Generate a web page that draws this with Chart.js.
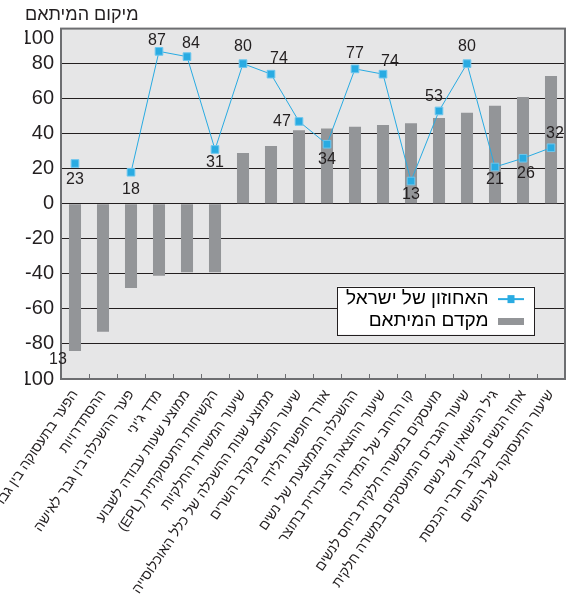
<!DOCTYPE html>
<html lang="he">

<head>
    <meta charset="UTF-8">
    <title>מיקום המיתאם</title>
    <script src="https://cdn.jsdelivr.net/npm/chart.js"></script>
    <style>
        html,
        body {
            margin: 0;
            padding: 0;
            background: #ffffff;
        }
    </style>
</head>

<body>
    <canvas id="grafico" width="572" height="596"></canvas>

    <script>
        // categorias (eixo x)
        const categorias = [
            'הפער בתעסוקה בין גבר לאישה',
            'ההסתדרויות',
            'פער ההשכלה בין גבר לאישה',
            "מדד ג'יני",
            'ממוצע שעות עבודה לשבוע',
            'הקשיחות התעסוקתית (EPL)',
            'שיעור המשרות החלקיות',
            'ממוצע שנות ההשכלה של כלל האוכלוסייה',
            'שיעור הנשים בקרב השרים',
            'אורך חופשת הלידה',
            'ההשכלה הממוצעת של נשים',
            'שיעור ההוצאה הציבורית בתוצר',
            'קו הרוחב של המדינה',
            'מועסקים במשרה חלקית ביחס לנשים',
            'שיעור הגברים המועסקים במשרה חלקית',
            'גיל הנישואין של נשים',
            'אחוז הנשים בקרב חברי הכנסת',
            'שיעור התעסוקה של הנשים'
        ];

        // barras cinza
        const mekadem = [-84, -73, -48, -41, -39, -39, 29, 33, 42, 43, 44, 45, 46, 49, 52, 56, 61, 73];

        // linha azul (sem valor na segunda categoria)
        const achuzon = [23, null, 18, 87, 84, 31, 80, 74, 47, 34, 77, 74, 13, 53, 80, 21, 26, 32];

        const eixoMin = -100;
        const eixoMax = 100;
        const eixoPasso = 20;

        // rótulo solto perto do canto inferior esquerdo
        const rotuloSolto = { texto: '13', valor: -89 };

        // deslocamento [dx, dy] de cada rótulo de valor em relação ao ponto
        const deslocRotulos = [
            [0, 16], null, [0, 17], [-2, -11], [4, -13], [0, 13], [0, -17], [8, -16], [-17, 0],
            [0, 15], [0, -15], [7, -13], [0, 14], [-5, -14], [0, -17], [0, 13], [3, 15], [4, -14]
        ];

        const fonte = "'Liberation Sans', Arial, 'DejaVu Sans', sans-serif";
        const corTexto = '#231f20';
        const azul = '#29abe2';
        const cinza = '#939598';
        const fundo = '#e6e6e7';
        const moldura = '#6d6e71';

        // ícones da legenda
        function iconeLinha() {
            const c = document.createElement('canvas');
            c.width = 26;
            c.height = 10;
            const g = c.getContext('2d');
            g.strokeStyle = azul;
            g.lineWidth = 2;
            g.beginPath();
            g.moveTo(0, 5);
            g.lineTo(26, 5);
            g.stroke();
            g.fillStyle = azul;
            g.fillRect(9.5, 1, 7, 8);
            return c;
        }

        function iconeBarra() {
            const c = document.createElement('canvas');
            c.width = 26;
            c.height = 7;
            const g = c.getContext('2d');
            g.fillStyle = cinza;
            g.fillRect(0, 0, 26, 7);
            return c;
        }

        const icones = [iconeLinha(), iconeBarra()];

        // fundo cinza, moldura e caixa branca da legenda
        const fundoEQuadro = {
            id: 'fundoEQuadro',
            beforeDraw(chart) {
                const { ctx, chartArea: a } = chart;
                ctx.save();
                ctx.fillStyle = fundo;
                ctx.fillRect(a.left, a.top, a.width, a.height);
                ctx.restore();
            },
            afterLayout(chart) {
                const a = chart.chartArea;
                const lg = chart.legend;
                lg.left = a.right - 38 - lg.width;
                lg.top = a.top + 258;
                lg.right = lg.left + lg.width;
                lg.bottom = lg.top + lg.height;
            },
            beforeDatasetsDraw(chart) {
                const { ctx, chartArea: a } = chart;
                ctx.save();
                ctx.strokeStyle = moldura;
                ctx.lineWidth = 2;
                ctx.strokeRect(a.left, a.top, a.width, a.height);

                const caixas = chart.legend.legendHitBoxes;
                const esq = Math.min(...caixas.map(h => h.left)) - 9;
                const dir = Math.max(...caixas.map(h => h.left + h.width)) + 10;
                const topo = caixas[0].top - 3;
                const ult = caixas[caixas.length - 1];
                const base = ult.top + ult.height + 4;
                ctx.fillStyle = '#ffffff';
                ctx.fillRect(esq, topo, dir - esq, base - topo);
                ctx.strokeStyle = corTexto;
                ctx.lineWidth = 1;
                ctx.strokeRect(Math.round(esq) + 0.5, Math.round(topo) + 0.5, Math.round(dir - esq), Math.round(base - topo));
                ctx.restore();

                // legenda por cima da caixa
                chart.legend.draw();
            }
        };

        // números junto aos pontos da linha
        const rotulosValores = {
            id: 'rotulosValores',
            afterDatasetsDraw(chart) {
                const ctx = chart.ctx;
                const meta = chart.getDatasetMeta(0);
                ctx.save();
                ctx.font = '16px ' + fonte;
                ctx.fillStyle = corTexto;
                ctx.textAlign = 'center';
                ctx.textBaseline = 'middle';
                meta.data.forEach((pt, i) => {
                    if (achuzon[i] == null) return;
                    const d = deslocRotulos[i];
                    ctx.fillText(String(achuzon[i]), pt.x + d[0], pt.y + d[1]);
                });
                ctx.fillText(rotuloSolto.texto, chart.chartArea.left - 3, chart.scales.y.getPixelForValue(rotuloSolto.valor));
                ctx.restore();
            }
        };

        const ctx = document.getElementById('grafico').getContext('2d');

        const grafico = new Chart(ctx, {
            type: 'bar',
            data: {
                labels: categorias,
                datasets: [{
                    type: 'line',
                    label: 'האחוזון של ישראל',
                    data: achuzon,
                    borderColor: azul,
                    backgroundColor: azul,
                    borderWidth: 1,
                    tension: 0,
                    fill: false,
                    spanGaps: false,
                    pointStyle: 'rect',
                    pointRadius: 5.4,
                    pointBackgroundColor: azul,
                    pointBorderColor: '#6cc6ee',
                    pointBorderWidth: 1
                }, {
                    type: 'bar',
                    label: 'מקדם המיתאם',
                    data: mekadem,
                    backgroundColor: cinza,
                    barPercentage: 0.43,
                    categoryPercentage: 1
                }]
            },
            options: {
                responsive: false,
                animation: false,
                devicePixelRatio: 1,
                layout: {
                    padding: { left: 25, right: 7, top: 0, bottom: 0 }
                },
                plugins: {
                    title: {
                        display: true,
                        text: 'מיקום המיתאם',
                        align: 'start',
                        color: corTexto,
                        font: { family: fonte, size: 18, weight: 'normal' },
                        padding: { top: 4, bottom: 3 }
                    },
                    legend: {
                        position: 'chartArea',
                        align: 'start',
                        rtl: true,
                        labels: {
                            usePointStyle: true,
                            pointStyleWidth: 26,
                            boxHeight: 18,
                            padding: 3,
                            color: corTexto,
                            font: { family: fonte, size: 19 },
                            generateLabels: (chart) => chart.data.datasets.map((ds, i) => ({
                                text: ds.label,
                                pointStyle: icones[i],
                                fillStyle: i === 0 ? azul : cinza,
                                strokeStyle: i === 0 ? azul : cinza,
                                lineWidth: 0,
                                hidden: false,
                                datasetIndex: i
                            }))
                        }
                    },
                    tooltip: { enabled: false }
                },
                scales: {
                    x: {
                        offset: true,
                        grid: {
                            display: true,
                            offset: true,
                            drawOnChartArea: false,
                            drawTicks: true,
                            tickLength: -5,
                            color: moldura
                        },
                        border: { display: false },
                        ticks: {
                            autoSkip: false,
                            minRotation: 56,
                            maxRotation: 56,
                            padding: 13,
                            color: corTexto,
                            font: { family: fonte, size: 14 },
                            callback: (v, i) => '\u202B' + categorias[i] + '\u202C'
                        },
                        afterFit(scale) {
                            scale.height = 217;
                            scale.paddingLeft = 0;
                            scale.paddingRight = 0;
                        }
                    },
                    y: {
                        min: eixoMin,
                        max: eixoMax,
                        grid: {
                            drawTicks: false,
                            lineWidth: 1,
                            color: (c) => (c.tick.value === eixoMax || c.tick.value === eixoMin) ? 'rgba(0,0,0,0)' : corTexto
                        },
                        border: { display: false },
                        ticks: {
                            stepSize: eixoPasso,
                            autoSkip: false,
                            padding: 7,
                            color: corTexto,
                            font: { family: fonte, size: 20, lineHeight: 1 },
                            // o 100 fica um pouco abaixo para caber dentro do quadro
                            callback: (v) => v === eixoMax ? ['', String(v)] : String(v)
                        },
                        afterFit(scale) {
                            scale.width = 36;
                        }
                    }
                }
            },
            plugins: [fundoEQuadro, rotulosValores]
        });
    </script>
</body>

</html>
